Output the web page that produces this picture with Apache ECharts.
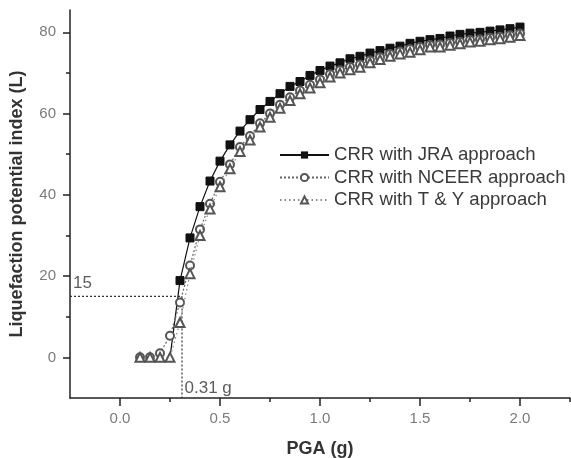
<!DOCTYPE html>
<html>
<head>
<meta charset="utf-8">
<script src="https://cdn.jsdelivr.net/npm/echarts@6/dist/echarts.min.js"></script>
<style>
html,body{margin:0;padding:0;background:#fff;}
#chart{width:571px;height:458px;}
</style>
</head>
<body>
<div id="chart"></div>
<script>
var pga = [0.10,0.15,0.20,0.25,0.30,0.35,0.40,0.45,0.50,0.55,0.60,0.65,0.70,0.75,0.80,0.85,0.90,0.95,1.00,1.05,1.10,1.15,1.20,1.25,1.30,1.35,1.40,1.45,1.50,1.55,1.60,1.65,1.70,1.75,1.80,1.85,1.90,1.95,2.00];
var jra = [null,null,null,0,18.9,29.4,37.1,43.4,48.3,52.3,55.7,58.5,61.0,63.0,64.9,66.7,67.9,69.4,70.6,71.7,72.5,73.5,74.1,74.9,75.5,76.1,76.6,77.3,77.8,78.2,78.5,79.1,79.5,79.8,80.0,80.3,80.6,80.9,81.3];
var nceer = [0,0,1.0,5.3,13.5,22.6,31.5,37.8,43.2,47.5,51.8,54.5,57.6,60.0,62.2,64.0,65.7,67.1,68.4,69.7,70.7,71.5,72.1,73.1,73.9,74.7,75.3,75.9,76.4,76.9,77.0,77.4,77.7,78.1,78.3,78.7,78.9,79.3,79.7];
var ty = [0,0,0,0,8.6,20.6,30.0,36.5,42.0,46.4,50.7,53.5,56.7,59.1,61.3,63.2,64.9,66.3,67.6,69.0,70.0,70.8,71.4,72.5,73.3,74.1,74.7,75.1,75.7,76.4,76.4,76.8,77.2,77.6,77.8,78.2,78.4,78.8,79.2];
var seriesNames = ['CRR with JRA approach','CRR with NCEER approach','CRR with T & Y approach'];
var xMajor = [0,0.5,1.0,1.5,2.0];
var xMinor = [0.25,0.75,1.25,1.75,2.25];
var yMajor = [0,20,40,60,80];
var yMinor = [10,30,50,70];
var guide = [[-0.25,15],[0.31,15],[0.31,-10]];
var notes = [[-0.235,18.2,'15'],[0.3225,-7.5,'0.31 g']];

function pairs(xs, ys){ return xs.map(function(x,i){ return [x, ys[i]]; }); }
// JRA: the zero point only anchors the line (its marker is hidden under the others)
function jraData(xs, ys){
  return xs.map(function(x,i){
    return ys[i]===0 ? {value:[x,ys[i]], symbol:'none'} : [x, ys[i]];
  });
}

var chart = echarts.init(document.getElementById('chart'), null, {renderer:'canvas'});
var axisFont = 'Liberation Sans, Arial, sans-serif';
var option = {
  backgroundColor:'#fff',
  animation:false,
  grid:{left:70,right:1,top:10,bottom:60,containLabel:false,outerBoundsMode:'none'},
  legend:{
    data:seriesNames,
    orient:'vertical',
    left:274, top:140,
    itemWidth:49, itemHeight:9, itemGap:2.5,
    textStyle:{fontFamily:axisFont,fontSize:18.6,color:'#3a3a3a',lineHeight:20}
  },
  xAxis:[{
    type:'value', min:-0.25, max:2.25,
    name:'PGA (g)', nameLocation:'middle', nameGap:42,
    nameTextStyle:{fontFamily:axisFont,fontSize:18,fontWeight:'bold',color:'#333'},
    axisLine:{show:true,onZero:false,lineStyle:{color:'#222',width:1.5}},
    axisTick:{show:true,inside:false,length:8,customValues:xMajor,lineStyle:{color:'#222',width:1.5}},
    axisLabel:{customValues:xMajor,margin:13,fontFamily:axisFont,fontSize:15,color:'#7a7a7a',formatter:function(v){return v.toFixed(1);}},
    splitLine:{show:false}
  },{
    type:'value', min:-0.25, max:2.25, position:'bottom',
    axisLine:{show:false,onZero:false},
    axisTick:{show:true,length:4,customValues:xMinor,lineStyle:{color:'#222',width:1.5}},
    axisLabel:{show:false},
    splitLine:{show:false}
  }],
  yAxis:[{
    type:'value', min:-10, max:85.5,
    name:'Liquefaction potential index (L)', nameLocation:'middle', nameGap:44,
    nameTextStyle:{fontFamily:axisFont,fontSize:18,fontWeight:'bold',color:'#333'},
    axisLine:{show:true,onZero:false,lineStyle:{color:'#222',width:1.5}},
    axisTick:{show:true,length:7,customValues:yMajor,lineStyle:{color:'#222',width:1.5}},
    axisLabel:{customValues:yMajor,margin:14,fontFamily:axisFont,fontSize:15,color:'#7a7a7a'},
    splitLine:{show:false}
  },{
    type:'value', min:-10, max:85.5, position:'left',
    axisLine:{show:false,onZero:false},
    axisTick:{show:true,length:4,customValues:yMinor,lineStyle:{color:'#222',width:1.5}},
    axisLabel:{show:false},
    splitLine:{show:false}
  }],
  series:[
    {name:'guide',type:'line',data:guide,symbol:'none',silent:true,
     lineStyle:{color:'#333',width:1.2,type:[2,2]},z:1},
    {name:'notes',type:'scatter',data:notes,symbolSize:0,silent:true,
     label:{show:true,position:'right',distance:0,formatter:function(p){return p.data[2];},
            fontFamily:axisFont,fontSize:17,color:'#333'}},
    {name:seriesNames[0],type:'line',data:jraData(pga,jra),symbol:'rect',symbolSize:8,connectNulls:false,
     itemStyle:{color:'#111',borderColor:'#111'},lineStyle:{color:'#111',width:1.2,type:'solid'},z:2},
    {name:seriesNames[1],type:'line',data:pairs(pga,nceer),symbol:'emptyCircle',symbolSize:8,
     itemStyle:{color:'#555',borderColor:'#555',borderWidth:1.2},lineStyle:{color:'#666',width:1.2,type:[2,2]},z:3},
    {name:seriesNames[2],type:'line',data:pairs(pga,ty),symbol:'emptyTriangle',symbolSize:[9,9],
     itemStyle:{color:'#555',borderColor:'#555',borderWidth:1.2},lineStyle:{color:'#888',width:1.2,type:[1.5,3]},z:4}
  ]
};
chart.setOption(option);
</script>
</body>
</html>
